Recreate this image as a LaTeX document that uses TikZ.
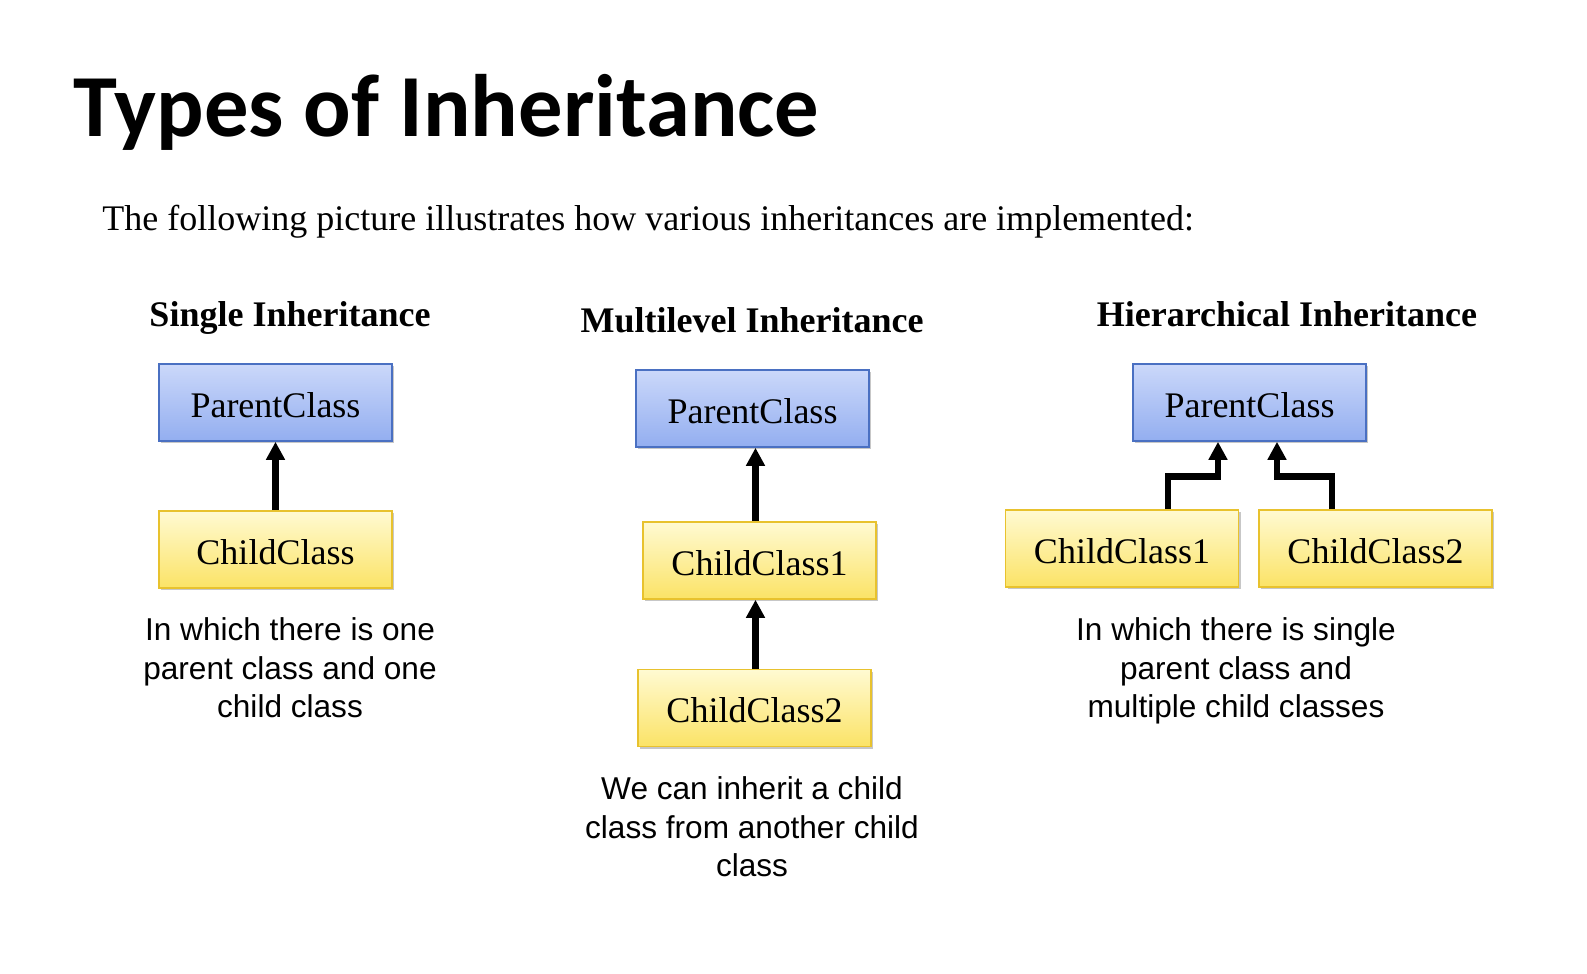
\documentclass[tikz,border=0pt]{standalone}
\usepackage{fontspec}
\setmainfont{Liberation Serif}
\newfontfamily\titlefont{Carlito}
\newfontfamily\descfont{Liberation Sans}
\usetikzlibrary{arrows.meta,shadows}

\definecolor{blueTop}{HTML}{CBD8FA}
\definecolor{blueBot}{HTML}{93AEF0}
\definecolor{blueEdge}{HTML}{4A70C2}
\definecolor{yelTop}{HTML}{FFFAD2}
\definecolor{yelBot}{HTML}{FBE366}
\definecolor{yelEdge}{HTML}{E8C22E}

\tikzset{
  classbox/.style={rectangle, draw, line width=0.8pt, minimum width=116.5pt,
    minimum height=38.5pt, inner sep=0pt, text height=14.5pt, text depth=0pt,
    font=\fontsize{18}{20}\selectfont,
    drop shadow={shadow xshift=1.2pt, shadow yshift=-1.2pt, opacity=0.22, fill=black}},
  parentbox/.style={classbox, draw=blueEdge, top color=blueTop, bottom color=blueBot},
  childbox/.style={classbox, draw=yelEdge, top color=yelTop, bottom color=yelBot},
  conn/.style={line width=3.4pt, -{Triangle[width=9pt,length=9pt]}},
  heading/.style={anchor=base, font=\fontsize{18}{21}\selectfont\bfseries},
  desc/.style={align=center, font=\descfont\fontsize{15.8}{19.25}\selectfont},
}

\begin{document}
\begin{tikzpicture}[x=0.5pt, y=-0.5pt]
  \useasboundingbox[fill=white] (0,0) rectangle (1587,974);

  % title and introduction
  \node[anchor=base west, inner sep=0pt, font=\titlefont\bfseries\fontsize{44.3}{50}\selectfont]
    (title) at (73,137) {Types of Inheritance};
  \node[anchor=base west, inner sep=0pt, font=\fontsize{18}{21}\selectfont]
    (intro) at (102,231) {The following picture illustrates how various inheritances are implemented:};

  % single inheritance
  \node[heading] (h1) at (290,326) {Single Inheritance};
  \node[parentbox] (sp) at (275.5,402.5) {ParentClass};
  \node[childbox]  (sc) at (275.5,549.5) {ChildClass};
  \draw[conn] (sc.north) -- (sp.south);
  \node[desc] (d1) at (290,668) {In which there is one\\parent class and one\\child class};

  % multilevel inheritance
  \node[heading] (h2) at (752,332) {Multilevel Inheritance};
  \node[parentbox] (mp)  at (752.5,408.5) {ParentClass};
  \node[childbox]  (mc1) at (759.5,560.5) {ChildClass1};
  \node[childbox]  (mc2) at (754.5,708)   {ChildClass2};
  \draw[conn] ([xshift=-2pt]mc1.north) -- ([xshift=1.5pt]mp.south);
  \draw[conn] ([xshift=0.5pt]mc2.north) -- ([xshift=-2pt]mc1.south);
  \node[desc] (d2) at (752,827) {We can inherit a child\\class from another child\\class};

  % hierarchical inheritance
  \node[heading] (h3) at (1287,326) {Hierarchical Inheritance};
  \node[parentbox] (hp)  at (1249.5,402.5) {ParentClass};
  \node[childbox]  (hc1) at (1122,548.5)   {ChildClass1};
  \node[childbox]  (hc2) at (1375.5,548.5) {ChildClass2};
  \draw[conn] ([xshift=23pt]hc1.north) -- ++(0,-33) -| ([xshift=-15.75pt]hp.south);
  \draw[conn] ([xshift=-21.75pt]hc2.north) -- ++(0,-33) -| ([xshift=13.75pt]hp.south);
  \node[desc] (d3) at (1236,671) {In which there is single\\parent class and\\multiple child classes};
\end{tikzpicture}
\end{document}
